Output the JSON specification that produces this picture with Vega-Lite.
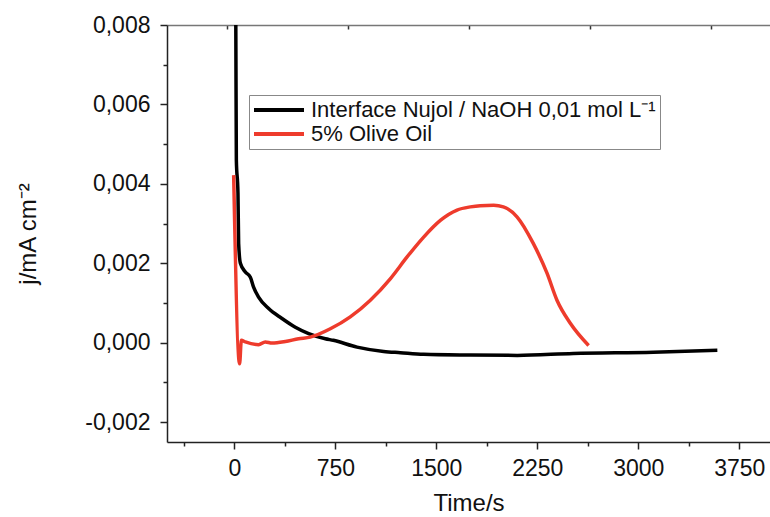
{
  "$schema": "https://vega.github.io/schema/vega-lite/v6.json",
  "width": 603,
  "height": 417,
  "autosize": {"type": "none"},
  "padding": {"left": 167, "top": 25, "right": 0, "bottom": 75},
  "background": "white",
  "config": {
    "view": {"stroke": null},
    "font": "Liberation Sans",
    "axis": {
      "grid": false,
      "domainColor": "#222",
      "domainWidth": 1.5,
      "tickColor": "#222",
      "tickWidth": 1.5,
      "labelColor": "#111",
      "titleColor": "#111",
      "labelFont": "Liberation Sans",
      "titleFont": "Liberation Sans",
      "labelFontSize": 23,
      "titleFontSize": 24,
      "titleFontWeight": "normal"
    }
  },
  "data": {
    "values": [
      {"s": "Interface Nujol / NaOH 0,01 mol L⁻¹", "t": 8, "j": 0.0095},
      {"s": "Interface Nujol / NaOH 0,01 mol L⁻¹", "t": 11, "j": 0.008},
      {"s": "Interface Nujol / NaOH 0,01 mol L⁻¹", "t": 15, "j": 0.0046},
      {"s": "Interface Nujol / NaOH 0,01 mol L⁻¹", "t": 27, "j": 0.00377},
      {"s": "Interface Nujol / NaOH 0,01 mol L⁻¹", "t": 32, "j": 0.0025},
      {"s": "Interface Nujol / NaOH 0,01 mol L⁻¹", "t": 45, "j": 0.002},
      {"s": "Interface Nujol / NaOH 0,01 mol L⁻¹", "t": 82, "j": 0.00178},
      {"s": "Interface Nujol / NaOH 0,01 mol L⁻¹", "t": 119, "j": 0.00165},
      {"s": "Interface Nujol / NaOH 0,01 mol L⁻¹", "t": 143, "j": 0.0014},
      {"s": "Interface Nujol / NaOH 0,01 mol L⁻¹", "t": 180, "j": 0.00115},
      {"s": "Interface Nujol / NaOH 0,01 mol L⁻¹", "t": 255, "j": 0.00086},
      {"s": "Interface Nujol / NaOH 0,01 mol L⁻¹", "t": 354, "j": 0.00061},
      {"s": "Interface Nujol / NaOH 0,01 mol L⁻¹", "t": 453, "j": 0.00039},
      {"s": "Interface Nujol / NaOH 0,01 mol L⁻¹", "t": 552, "j": 0.00023},
      {"s": "Interface Nujol / NaOH 0,01 mol L⁻¹", "t": 676, "j": 0.0001},
      {"s": "Interface Nujol / NaOH 0,01 mol L⁻¹", "t": 735, "j": 0.00006},
      {"s": "Interface Nujol / NaOH 0,01 mol L⁻¹", "t": 911, "j": -0.00011},
      {"s": "Interface Nujol / NaOH 0,01 mol L⁻¹", "t": 1109, "j": -0.00022},
      {"s": "Interface Nujol / NaOH 0,01 mol L⁻¹", "t": 1233, "j": -0.00025},
      {"s": "Interface Nujol / NaOH 0,01 mol L⁻¹", "t": 1406, "j": -0.00029},
      {"s": "Interface Nujol / NaOH 0,01 mol L⁻¹", "t": 1753, "j": -0.00031},
      {"s": "Interface Nujol / NaOH 0,01 mol L⁻¹", "t": 2101, "j": -0.00032},
      {"s": "Interface Nujol / NaOH 0,01 mol L⁻¹", "t": 2517, "j": -0.00027},
      {"s": "Interface Nujol / NaOH 0,01 mol L⁻¹", "t": 3111, "j": -0.00024},
      {"s": "Interface Nujol / NaOH 0,01 mol L⁻¹", "t": 3587, "j": -0.00019},
      {"s": "\u00a05% Olive Oil", "t": -5, "j": 0.00422},
      {"s": "\u00a05% Olive Oil", "t": 39, "j": -0.00053},
      {"s": "\u00a05% Olive Oil", "t": 52, "j": 0.00006},
      {"s": "\u00a05% Olive Oil", "t": 82, "j": 0.00002},
      {"s": "\u00a05% Olive Oil", "t": 180, "j": -0.00005},
      {"s": "\u00a05% Olive Oil", "t": 230, "j": 0.00002},
      {"s": "\u00a05% Olive Oil", "t": 280, "j": -0.00001},
      {"s": "\u00a05% Olive Oil", "t": 379, "j": 0.00003},
      {"s": "\u00a05% Olive Oil", "t": 477, "j": 0.0001},
      {"s": "\u00a05% Olive Oil", "t": 564, "j": 0.00014},
      {"s": "\u00a05% Olive Oil", "t": 713, "j": 0.00035},
      {"s": "\u00a05% Olive Oil", "t": 861, "j": 0.00065},
      {"s": "\u00a05% Olive Oil", "t": 1010, "j": 0.00107},
      {"s": "\u00a05% Olive Oil", "t": 1158, "j": 0.00161},
      {"s": "\u00a05% Olive Oil", "t": 1283, "j": 0.00216},
      {"s": "\u00a05% Olive Oil", "t": 1406, "j": 0.00266},
      {"s": "\u00a05% Olive Oil", "t": 1530, "j": 0.00308},
      {"s": "\u00a05% Olive Oil", "t": 1654, "j": 0.00334},
      {"s": "\u00a05% Olive Oil", "t": 1753, "j": 0.00342},
      {"s": "\u00a05% Olive Oil", "t": 1826, "j": 0.00345},
      {"s": "\u00a05% Olive Oil", "t": 1926, "j": 0.00346},
      {"s": "\u00a05% Olive Oil", "t": 1998, "j": 0.00342},
      {"s": "\u00a05% Olive Oil", "t": 2099, "j": 0.00317},
      {"s": "\u00a05% Olive Oil", "t": 2220, "j": 0.0025},
      {"s": "\u00a05% Olive Oil", "t": 2322, "j": 0.00175},
      {"s": "\u00a05% Olive Oil", "t": 2396, "j": 0.00107},
      {"s": "\u00a05% Olive Oil", "t": 2495, "j": 0.00049},
      {"s": "\u00a05% Olive Oil", "t": 2631, "j": -0.00007}
    ]
  },
  "resolve": {"axis": {"x": "independent", "y": "independent"}},
  "layer": [
    {
      "mark": {"type": "point", "opacity": 0},
      "encoding": {
        "x": {
          "field": "t", "type": "quantitative",
          "scale": {"domain": [-500, 3978], "nice": false, "zero": false},
          "axis": {"orient": "top", "values": [-52, 847, 1745, 2643, 3542], "labels": false, "title": null, "tickSize": -4, "domainColor": "#777", "domainWidth": 1.5, "tickColor": "#333"}
        },
        "y": {
          "field": "j", "type": "quantitative",
          "scale": {"domain": [-0.0025, 0.008], "nice": false, "zero": false},
          "axis": {"orient": "left", "values": [-0.001, 0.001, 0.003, 0.005, 0.007], "labels": false, "title": null, "tickSize": 4, "domain": false}
        }
      }
    },
    {
      "mark": {"type": "point", "opacity": 0},
      "encoding": {
        "x": {
          "field": "t", "type": "quantitative",
          "axis": {"orient": "bottom", "values": [-375, 375, 1125, 1875, 2625, 3375], "labels": false, "title": null, "tickSize": 4, "domain": false}
        },
        "y": {"field": "j", "type": "quantitative", "axis": null}
      }
    },
    {
      "mark": {"type": "line", "clip": true, "strokeWidth": 3.5, "interpolate": "monotone"},
      "encoding": {
        "x": {
          "field": "t", "type": "quantitative",
          "axis": {"orient": "bottom", "values": [0, 750, 1500, 2250, 3000, 3750], "format": "d", "title": "Time/s", "tickSize": 7, "labelPadding": 8, "titlePadding": 11}
        },
        "y": {
          "field": "j", "type": "quantitative",
          "axis": {"orient": "left", "values": [-0.002, 0, 0.002, 0.004, 0.006, 0.008], "labelExpr": "replace(replace(format(datum.value, '.3f'), '.', ','), '−', '-')", "title": "j/mA cm⁻²", "tickSize": 7, "labelPadding": 10, "titlePadding": 44}
        },
        "color": {
          "field": "s", "type": "nominal",
          "scale": {"domain": ["Interface Nujol / NaOH 0,01 mol L⁻¹", "\u00a05% Olive Oil"], "range": ["#000000", "#ee3b2c"]},
          "legend": {
            "orient": "none", "legendX": 82, "legendY": 70, "title": null,
            "symbolType": "M-2,0H8", "symbolSize": 100, "symbolStrokeWidth": 4, "symbolFillColor": "transparent",
            "labelFontSize": 22, "labelFont": "Liberation Sans", "labelColor": "#111", "labelLimit": 0,
            "strokeColor": "#888", "fillColor": "white", "padding": 4, "labelOffset": 36, "rowPadding": 2
          }
        }
      }
    }
  ]
}
